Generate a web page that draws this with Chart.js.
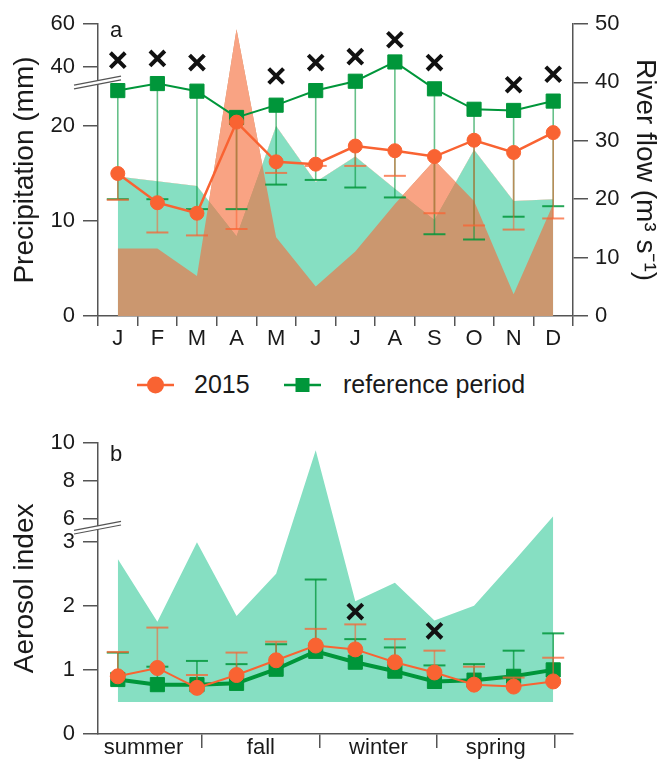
<!DOCTYPE html>
<html>
<head>
<meta charset="utf-8">
<script src="https://cdn.jsdelivr.net/npm/chart.js@4.4.1/dist/chart.umd.min.js"></script>
<style>
  html, body { margin: 0; padding: 0; background: #ffffff; }
  #wrap { position: relative; width: 660px; height: 761px; overflow: hidden; font-family: 'Liberation Sans', Arial, sans-serif; color: #1a1a1a; }
  canvas { position: absolute; left: 0; }
  .panel { position: absolute; font-size: 22px; line-height: 22px; }
  .leg { position: absolute; font-size: 25px; line-height: 30px; white-space: nowrap; }
  .legicon { position: absolute; }
</style>
</head>
<body>
<div id="wrap">
  <canvas id="top" width="660" height="360" style="top:0px"></canvas>
  <canvas id="bot" width="660" height="361" style="top:400px"></canvas>
  <div class="panel" style="left:110px; top:19px;">a</div>
  <div class="panel" style="left:110px; top:443px;">b</div>
  <div id="legend"></div>
</div>
<script>
// ---------------- data ----------------
const months = ['J', 'F', 'M', 'A', 'M', 'J', 'J', 'A', 'S', 'O', 'N', 'D'];
const seriesNames = ['2015', 'reference period'];
const precipTicks = [0, 10, 20, 40, 60];
const flowTicks = [0, 10, 20, 30, 40, 50];
const aeroTicks = [0, 1, 2, 3, 6, 8, 10];
const seasons = ['summer', 'fall', 'winter', 'spring'];
const seasonBounds = [-0.83, 2.13, 5.1, 8.07, 11.03];

// panel a: precipitation (mm, left axis) as areas
const precipRef  = [14.7, 14.2, 13.7, 8.4, 20.0, 14.1, 16.8, 13.4, 10.1, 17.5, 12.1, 12.3];
const precip2015 = [7.1, 7.1, 4.2, 57.5, 8.3, 3.1, 6.8, 11.8, 16.4, 12.1, 2.3, 11.8];
// panel a: river flow (m3 s-1, right axis)
const flowRef     = [38.6, 39.8, 38.5, 34.0, 36.1, 38.6, 40.2, 43.5, 38.9, 35.4, 35.2, 36.8];
const flowRefLow  = [20.0, 20.0, 18.3, 18.3, 22.5, 23.3, 22.0, 20.3, 14.0, 13.1, 17.0, 18.8];
const flow2015    = [24.4, 19.4, 17.6, 33.2, 26.4, 26.0, 29.1, 28.3, 27.3, 30.1, 28.0, 31.4];
const flow2015Low = [19.9, 14.3, 13.8, 14.9, 24.5, 25.7, 25.7, 24.0, 17.6, 15.5, 14.8, 16.7];
const flowSignif  = [43.8, 44.1, 43.4, null, 41.1, 43.4, 44.4, 47.3, 43.4, null, 39.6, 41.4];

// panel b: aerosol index
const aeroRefMin   = [0.5, 0.5, 0.5, 0.5, 0.5, 0.5, 0.5, 0.5, 0.5, 0.5, 0.5, 0.5];
const aeroRefMax   = [2.73, 1.75, 2.99, 1.84, 2.50, 9.6, 2.07, 2.36, 1.77, 2.0, 2.69, 6.13];
const aeroRef      = [0.85, 0.77, 0.77, 0.79, 1.01, 1.29, 1.12, 0.98, 0.82, 0.84, 0.90, 1.00];
const aeroRefHigh  = [1.27, 1.05, 1.14, 1.09, 1.40, 2.41, 1.48, 1.35, 1.07, 1.09, 1.30, 1.57];
const aero2015     = [0.90, 1.03, 0.72, 0.92, 1.15, 1.38, 1.32, 1.12, 0.96, 0.77, 0.74, 0.82];
const aero2015High = [1.28, 1.66, 0.92, 1.27, 1.44, 1.64, 1.71, 1.48, 1.30, 1.05, 0.88, 1.19];
const aeroSignif   = [null, null, null, null, null, null, 1.91, null, 1.61, null, null, null];

// ---------------- styles ----------------
const FONT = "'Liberation Sans', Arial, sans-serif";
const TEXT = '#1a1a1a';
const AXIS = '#555555';
const GREEN = '#00963a';
const ORANGE = '#f96332';
const MINT = '#86dfc2';
const SALMON = '#f9a383';
const BROWN = '#cb976f';
const NONE = 'rgba(0,0,0,0)';

Chart.defaults.font.family = FONT;
Chart.defaults.color = TEXT;
Chart.defaults.animation = false;

// ---------------- broken axis scale ----------------
function mapPiecewise(anchors, x, a, b) {
  let i = 0;
  while (i < anchors.length - 2 && x > anchors[i + 1][a]) i++;
  const p = anchors[i], q = anchors[i + 1];
  const t = (x - p[a]) / (q[a] - p[a]);
  return p[b] + t * (q[b] - p[b]);
}
function makeBrokenScale(id, anchors) {
  class BrokenScale extends Chart.LinearScale {
    getPixelForValue(value) {
      if (value === null || value === undefined || isNaN(value)) return NaN;
      return this.getPixelForDecimal(mapPiecewise(anchors, value, 0, 1));
    }
    getValueForPixel(pixel) {
      return mapPiecewise(anchors, this.getDecimalForPixel(pixel), 1, 0);
    }
  }
  BrokenScale.id = id;
  BrokenScale.defaults = Chart.LinearScale.defaults;
  Chart.register(BrokenScale);
}
// [value, fraction of axis height]
makeBrokenScale('brokenPrecip', [[0, 0], [24.6, 0.800], [33, 0.8016], [60, 1]]);
makeBrokenScale('brokenAero', [[0, 0], [3.22, 0.7086], [5.55, 0.7095], [10, 1]]);

// ---------------- plugins ----------------
const errorBars = {
  id: 'errorBars',
  beforeDatasetDraw(chart, args) {
    const ds = chart.data.datasets[args.index];
    if (!ds.errTo) return;
    const meta = args.meta;
    const ys = chart.scales[meta.yAxisID];
    const ctx = chart.ctx;
    ctx.save();
    meta.data.forEach((pt, i) => {
      const v = ds.errTo[i];
      if (v === null || v === undefined) return;
      const y1 = ys.getPixelForValue(v);
      ctx.beginPath();
      ctx.strokeStyle = ds.errStem;
      ctx.lineWidth = 1.6;
      ctx.moveTo(pt.x, pt.y);
      ctx.lineTo(pt.x, y1);
      ctx.stroke();
      ctx.beginPath();
      ctx.strokeStyle = ds.errCap;
      ctx.lineWidth = 2;
      ctx.moveTo(pt.x - 11, y1);
      ctx.lineTo(pt.x + 11, y1);
      ctx.stroke();
    });
    ctx.restore();
  }
};

const breakMark = {
  id: 'breakMark',
  afterDatasetsDraw(chart, args, opts) {
    const s = chart.scales[opts.axis];
    if (!s) return;
    const yc = s.getPixelForValue(opts.value);
    const xc = s.right;
    const ctx = chart.ctx;
    const x0 = xc - 24, x1 = xc + 23;
    const slope = -9 / 47;
    const yAt = (x, off) => yc + (x - xc) * slope + off;
    ctx.save();
    ctx.beginPath();
    ctx.moveTo(x0, yAt(x0, -1.8));
    ctx.lineTo(x1, yAt(x1, -1.8));
    ctx.lineTo(x1, yAt(x1, 1.8));
    ctx.lineTo(x0, yAt(x0, 1.8));
    ctx.closePath();
    ctx.fillStyle = '#ffffff';
    ctx.fill();
    ctx.strokeStyle = AXIS;
    ctx.lineWidth = 1.2;
    [-1.8, 1.8].forEach(off => {
      ctx.beginPath();
      ctx.moveTo(x0, yAt(x0, off));
      ctx.lineTo(x1, yAt(x1, off));
      ctx.stroke();
    });
    ctx.restore();
  }
};

const tickFont = { size: 22 };
const titleFont = { size: 28, lineHeight: 1 };

function areaDs(label, data, order, fill, color) {
  return { label, data, yAxisID: 'yP', order, fill, backgroundColor: color,
    borderColor: NONE, borderWidth: 0, pointRadius: 0, pointHoverRadius: 0, tension: 0 };
}

// ---------------- panel a ----------------
new Chart(document.getElementById('top'), {
  type: 'line',
  data: {
    labels: months,
    datasets: [
      areaDs('precip ref', precipRef, 10, 'origin', MINT),
      areaDs('precip 2015 (overlap)', precip2015, 9, 'origin', BROWN),
      areaDs('precip 2015', precip2015, 8, { target: 0, above: SALMON, below: NONE }, SALMON),
      { label: seriesNames[1], data: flowRef, yAxisID: 'yF', order: 3,
        borderColor: GREEN, borderWidth: 2, tension: 0, fill: false,
        pointStyle: 'rect', pointRadius: 10, pointBackgroundColor: GREEN, pointBorderColor: GREEN, pointBorderWidth: 1,
        errTo: flowRefLow, errStem: 'rgba(0,150,58,0.6)', errCap: 'rgba(0,150,58,0.85)' },
      { label: seriesNames[0], data: flow2015, yAxisID: 'yF', order: 2,
        borderColor: ORANGE, borderWidth: 2.5, tension: 0, fill: false,
        pointStyle: 'circle', pointRadius: 7, pointBackgroundColor: ORANGE, pointBorderColor: ORANGE, pointBorderWidth: 1,
        errTo: flow2015Low, errStem: 'rgba(249,99,50,0.55)', errCap: 'rgba(249,99,50,0.75)' },
      { label: 'significant', data: flowSignif, yAxisID: 'yF', order: 1, showLine: false, fill: false,
        pointStyle: 'crossRot', pointRadius: 10.5, pointBorderWidth: 4, pointBorderColor: '#111111', pointBackgroundColor: '#111111' }
    ]
  },
  options: {
    responsive: false, animation: false, devicePixelRatio: 1,
    layout: { padding: { top: 24, bottom: 0, left: 0, right: 0 } },
    plugins: { legend: { display: false }, tooltip: { enabled: false }, breakMark: { axis: 'yP', value: 24.6 } },
    scales: {
      x: {
        type: 'category', offset: true,
        grid: { offset: true, drawOnChartArea: false, tickLength: 10, color: AXIS, lineWidth: 1.5 },
        border: { color: AXIS, width: 1.5 },
        ticks: { font: tickFont, color: TEXT, padding: 0, autoSkip: false, maxRotation: 0 },
        afterFit: s => { s.height = 44; }
      },
      yP: {
        type: 'brokenPrecip', position: 'left', min: 0, max: 60,
        afterBuildTicks: s => { s.ticks = precipTicks.map(v => ({ value: v })); },
        ticks: { callback: v => String(v), font: tickFont, color: TEXT, padding: 8, autoSkip: false },
        grid: { drawOnChartArea: false, tickLength: 15, color: AXIS, lineWidth: 1.5 },
        border: { color: AXIS, width: 1.5 },
        title: { display: true, text: 'Precipitation (mm)', font: titleFont, color: TEXT, padding: { top: 11, bottom: 0 } },
        afterFit: s => { s.width = 98; }
      },
      yF: {
        type: 'linear', position: 'right', min: 0, max: 50,
        afterBuildTicks: s => { s.ticks = flowTicks.map(v => ({ value: v })); },
        ticks: { callback: v => String(v), font: tickFont, color: TEXT, padding: 7, autoSkip: false },
        grid: { drawOnChartArea: false, tickLength: 15, color: AXIS, lineWidth: 1.5 },
        border: { color: AXIS, width: 1.5 },
        title: { display: true, text: 'River flow (m³ s⁻¹)', font: titleFont, color: TEXT, padding: { top: 1, bottom: 0 } },
        afterFit: s => { s.width = 87; }
      }
    }
  },
  plugins: [errorBars, breakMark]
});

// ---------------- panel b ----------------
const seasonTicks = [];
seasons.forEach((s, i) => seasonTicks.push({ value: (seasonBounds[i] + seasonBounds[i + 1]) / 2, name: s }));
seasonBounds.forEach(b => { if (b >= -0.5 && b <= 11.5) seasonTicks.push({ value: b, name: '' }); });
seasonTicks.sort((a, b) => a.value - b.value);

new Chart(document.getElementById('bot'), {
  type: 'line',
  data: {
    labels: months,
    datasets: [
      { label: 'ref min', data: aeroRefMin, order: 11, fill: false, borderColor: NONE, borderWidth: 0, pointRadius: 0, tension: 0 },
      { label: 'ref range', data: aeroRefMax, order: 10, fill: { target: 0 }, backgroundColor: MINT,
        borderColor: NONE, borderWidth: 0, pointRadius: 0, tension: 0 },
      { label: seriesNames[1], data: aeroRef, order: 3,
        borderColor: GREEN, borderWidth: 4, tension: 0, fill: false,
        pointStyle: 'rect', pointRadius: 10, pointBackgroundColor: GREEN, pointBorderColor: GREEN, pointBorderWidth: 1,
        errTo: aeroRefHigh, errStem: 'rgba(0,150,58,0.75)', errCap: 'rgba(0,150,58,0.85)' },
      { label: seriesNames[0], data: aero2015, order: 2,
        borderColor: ORANGE, borderWidth: 2, tension: 0, fill: false,
        pointStyle: 'circle', pointRadius: 7.5, pointBackgroundColor: ORANGE, pointBorderColor: ORANGE, pointBorderWidth: 1,
        errTo: aero2015High, errStem: 'rgba(249,99,50,0.6)', errCap: 'rgba(249,99,50,0.75)' },
      { label: 'significant', data: aeroSignif, order: 1, showLine: false, fill: false,
        pointStyle: 'crossRot', pointRadius: 10.5, pointBorderWidth: 4, pointBorderColor: '#111111', pointBackgroundColor: '#111111' }
    ]
  },
  options: {
    responsive: false, animation: false, devicePixelRatio: 1,
    layout: { padding: { top: 42.7, bottom: 0, left: 0, right: 87 } },
    plugins: { legend: { display: false }, tooltip: { enabled: false }, breakMark: { axis: 'y', value: 3.22 } },
    scales: {
      x: { type: 'category', offset: true, display: false },
      xs: {
        type: 'linear', position: 'bottom', min: -0.5, max: 11.5,
        afterBuildTicks: s => { s.ticks = seasonTicks.map(t => ({ value: t.value, name: t.name })); },
        ticks: { callback: (v, i, t) => t[i].name, font: tickFont, color: TEXT, padding: -13, autoSkip: false, maxRotation: 0 },
        grid: { drawOnChartArea: false, tickLength: 14, lineWidth: 1.5,
          color: c => (c.tick && c.tick.name) ? NONE : AXIS },
        border: { color: AXIS, width: 1.5 },
        afterFit: s => { s.height = 27; }
      },
      y: {
        type: 'brokenAero', position: 'left', min: 0, max: 10,
        afterBuildTicks: s => { s.ticks = aeroTicks.map(v => ({ value: v })); },
        ticks: { callback: v => String(v), font: tickFont, color: TEXT, padding: 8, autoSkip: false },
        grid: { drawOnChartArea: false, tickLength: 15, color: AXIS, lineWidth: 1.5 },
        border: { color: AXIS, width: 1.5 },
        title: { display: true, text: 'Aerosol index', font: titleFont, color: TEXT, padding: { top: 11, bottom: 0 } },
        afterFit: s => { s.width = 98; }
      }
    }
  },
  plugins: [errorBars, breakMark]
});

// ---------------- legend (HTML) ----------------
const legendItems = [
  { name: seriesNames[0], color: ORANGE, style: 'circle', iconX: 137, textX: 194 },
  { name: seriesNames[1], color: GREEN, style: 'rect', iconX: 284, textX: 343 }
];
const legend = document.getElementById('legend');
const legY = 384.7;
legendItems.forEach(it => {
  const ns = 'http://www.w3.org/2000/svg';
  const svg = document.createElementNS(ns, 'svg');
  svg.setAttribute('width', '37');
  svg.setAttribute('height', '20');
  svg.setAttribute('class', 'legicon');
  svg.style.left = it.iconX + 'px';
  svg.style.top = (legY - 10) + 'px';
  const line = document.createElementNS(ns, 'line');
  line.setAttribute('x1', '0'); line.setAttribute('x2', '37');
  line.setAttribute('y1', '10'); line.setAttribute('y2', '10');
  line.setAttribute('stroke', it.color); line.setAttribute('stroke-width', '2.5');
  svg.appendChild(line);
  let mk;
  if (it.style === 'circle') {
    mk = document.createElementNS(ns, 'circle');
    mk.setAttribute('cx', '18.5'); mk.setAttribute('cy', '10'); mk.setAttribute('r', '8.5');
  } else {
    mk = document.createElementNS(ns, 'rect');
    mk.setAttribute('x', '11.5'); mk.setAttribute('y', '3'); mk.setAttribute('width', '14'); mk.setAttribute('height', '14');
  }
  mk.setAttribute('fill', it.color);
  svg.appendChild(mk);
  legend.appendChild(svg);
  const t = document.createElement('div');
  t.className = 'leg';
  t.style.left = it.textX + 'px';
  t.style.top = (legY - 16) + 'px';
  t.textContent = it.name;
  legend.appendChild(t);
});
</script>
</body>
</html>
